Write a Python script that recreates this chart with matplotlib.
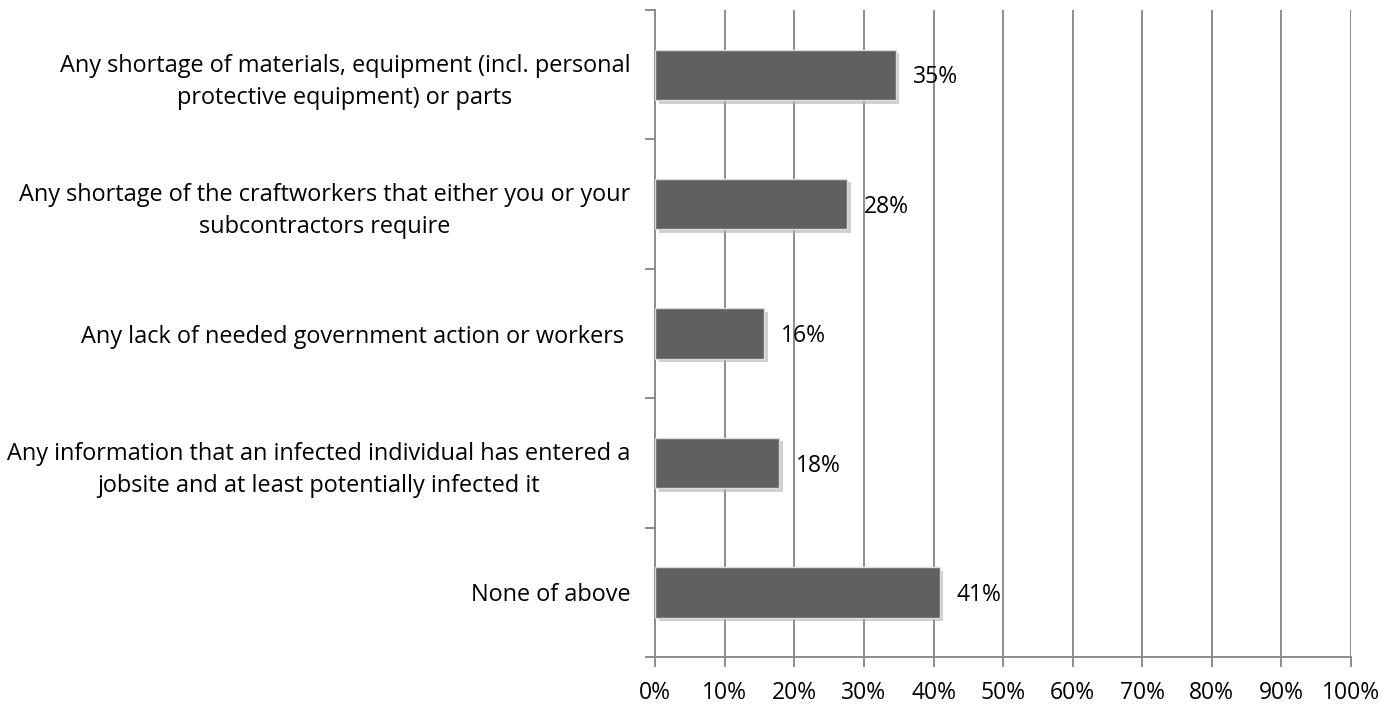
#!/usr/bin/env python3
"""Horizontal bar chart: causes of project disruption"""

import matplotlib
matplotlib.use('Agg')
import matplotlib.pyplot as plt
import matplotlib.patheffects as pe
import numpy as np

plt.rcParams['font.family'] = ['Open Sans', 'DejaVu Sans']

categories = [
    'Any shortage of materials, equipment (incl. personal\nprotective equipment) or parts',
    'Any shortage of the craftworkers that either you or your\nsubcontractors require',
    'Any lack of needed government action or workers ',
    'Any information that an infected individual has entered a\njobsite and at least potentially infected it',
    'None of above',
]
values = [34.6, 27.6, 15.7, 17.8, 40.9]
x_ticks = [0, 10, 20, 30, 40, 50, 60, 70, 80, 90, 100]

FS = 16.5

fig = plt.figure(figsize=(14, 7.07), dpi=100)
ax = fig.add_axes([0.468, 0.0707, 0.497, 0.915])

y = np.arange(len(categories))[::-1]
bars = ax.barh(y, values, height=0.39, color='#606060', edgecolor='#dcdcdc',
               linewidth=1, zorder=3)
for b in bars:
    b.set_path_effects([pe.SimplePatchShadow(offset=(2.5, -2.5), shadow_rgbFace='#b0b0b0', alpha=0.6),
                        pe.Normal()])

for yi, v in zip(y, values):
    ax.text(v + 2.4, yi - 0.02, f'{v:.0f}%', va='center', ha='left', fontsize=FS, zorder=4)

ax.set_xlim(0, 100)
ax.set_ylim(-0.5, len(categories) - 0.5)
ax.set_xticks(x_ticks)
ax.set_xticklabels([f'{t}%' for t in x_ticks], fontsize=FS)
ax.set_yticks(y)
ax.set_yticklabels(categories, fontsize=16.9, multialignment='center', linespacing=1.45)
ax.set_yticks(np.arange(len(categories) + 1) - 0.5, minor=True)

ax.tick_params(axis='y', which='major', length=0, pad=18)
ax.tick_params(axis='y', which='minor', length=7, width=1.4, color='#8c8c8c')
ax.tick_params(axis='x', which='major', length=7, width=1.4, color='#8c8c8c', pad=10)

ax.grid(True, axis='x', color='#8c8c8c', linewidth=1.4, zorder=0)
ax.set_axisbelow(True)
for s in ['top', 'right']:
    ax.spines[s].set_visible(False)
for s in ['left', 'bottom']:
    ax.spines[s].set_color('#8c8c8c')
    ax.spines[s].set_linewidth(1.4)

plt.savefig('out.png', dpi=100)
plt.close()
